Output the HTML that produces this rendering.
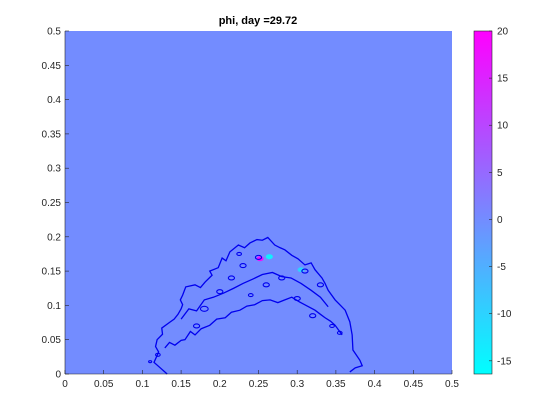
<!DOCTYPE html>
<html><head><meta charset="utf-8"><style>
body{margin:0;background:#fff;}
svg{display:block;font-family:"Liberation Sans",sans-serif;}
</style></head><body>
<svg id="c" width="560" height="420" xmlns="http://www.w3.org/2000/svg">
<defs><linearGradient id="cool" x1="0" y1="1" x2="0" y2="0"><stop offset="0" stop-color="#00ffff"/><stop offset="1" stop-color="#ff00ff"/></linearGradient></defs>
<text x="258" y="24" text-anchor="middle" font-size="11" font-weight="bold" fill="#000">phi, day =29.72</text>
<rect x="65" y="31" width="387" height="343" fill="rgb(115,140,255)"/>
<g id="contours"></g>
<g id="axes"></g>
<rect x="474" y="31" width="18" height="343" fill="url(#cool)" stroke="#262626" stroke-width="0.6"/>
<g id="cbticks"></g>
</svg>
<script>
const xTicks=[0,0.05,0.1,0.15,0.2,0.25,0.3,0.35,0.4,0.45,0.5];
const yTicks=[0,0.05,0.1,0.15,0.2,0.25,0.3,0.35,0.4,0.45,0.5];
const cbTicks=[-15,-10,-5,0,5,10,15,20];
const cbMin=-16.4, cbMax=20;
const outerX=[0.132,0.123,0.115,0.121,0.117,0.119,0.126,0.125,0.136,0.141,0.146,0.150,0.152,0.149,0.152,0.156,0.168,0.175,0.181,0.190,0.187,0.198,0.203,0.208,0.213,0.224,0.232,0.239,0.248,0.255,0.262,0.271,0.278,0.284,0.293,0.301,0.310,0.318,0.323,0.332,0.336,0.340,0.349,0.356,0.362,0.368,0.371,0.372,0.381,0.384,0.375,0.368];
const outerY=[0,0.009,0.017,0.032,0.040,0.050,0.058,0.067,0.076,0.080,0.087,0.095,0.101,0.108,0.115,0.127,0.130,0.126,0.134,0.144,0.150,0.155,0.169,0.165,0.178,0.188,0.184,0.191,0.196,0.195,0.199,0.188,0.184,0.181,0.173,0.168,0.159,0.162,0.152,0.140,0.132,0.122,0.108,0.100,0.093,0.076,0.057,0.035,0.020,0.012,0.009,0.003];
const innerX=[0.129,0.135,0.142,0.150,0.155,0.162,0.168,0.176,0.187,0.196,0.207,0.215,0.226,0.235,0.245,0.255,0.265,0.275,0.284,0.293,0.303,0.313,0.323,0.330,0.336,0.343,0.349,0.358];
const innerY=[0.038,0.046,0.042,0.049,0.050,0.062,0.057,0.066,0.071,0.080,0.082,0.090,0.093,0.099,0.101,0.107,0.108,0.104,0.108,0.112,0.105,0.099,0.093,0.087,0.082,0.077,0.071,0.057];
const midX=[0.150,0.160,0.170,0.180,0.192,0.205,0.218,0.230,0.242,0.255,0.268,0.280,0.292,0.305,0.318,0.330,0.340];
const midY=[0.080,0.095,0.092,0.108,0.112,0.118,0.125,0.132,0.138,0.145,0.148,0.142,0.140,0.132,0.122,0.112,0.098];
const blobX=[0.120,0.110,0.230,0.215,0.250,0.310,0.330,0.200,0.280,0.345,0.180,0.260,0.300,0.225,0.355,0.320,0.170,0.240];
const blobY=[0.028,0.018,0.158,0.140,0.170,0.150,0.130,0.120,0.140,0.070,0.095,0.130,0.110,0.175,0.060,0.085,0.070,0.115];
const blobR=[0.003,0.002,0.004,0.004,0.004,0.004,0.004,0.004,0.004,0.003,0.005,0.004,0.004,0.003,0.003,0.004,0.004,0.003];
const hotX=[0.252,0.264,0.305];const hotY=[0.168,0.171,0.152];const hotV=[18,-14,-10];
const NS='http://www.w3.org/2000/svg';
const X=v=>65+v*774, Y=v=>374-v*686, CB=v=>374-(v-cbMin)/(cbMax-cbMin)*343;
function el(t,a,p){const e=document.createElementNS(NS,t);for(const k in a)e.setAttribute(k,a[k]);p.appendChild(e);return e;}
function cool(v){const f=(v-cbMin)/(cbMax-cbMin);return `rgb(${Math.round(f*255)},${Math.round((1-f)*255)},255)`;}
const cg=document.getElementById('contours'),ag=document.getElementById('axes'),bg=document.getElementById('cbticks');
for(let i=0;i<hotX.length;i++){const e=el('ellipse',{cx:X(hotX[i]),cy:Y(hotY[i]),rx:3.5,ry:2.5,fill:cool(hotV[i])},cg);

}
function line(xs,ys,name){const p=el('polyline',{points:xs.map((x,i)=>X(x)+','+Y(ys[i])).join(' '),fill:'none',stroke:'#0000ee','stroke-width':1.3},cg);

}
line(outerX,outerY,'outer-contour');line(innerX,innerY,'inner-contour');line(midX,midY,'middle-contour');
for(let i=0;i<blobX.length;i++){const e=el('ellipse',{cx:X(blobX[i]),cy:Y(blobY[i]),rx:blobR[i]*774,ry:blobR[i]*500,fill:'none',stroke:'#0000ee','stroke-width':1.1},cg);

}
el('line',{x1:65,y1:374,x2:452,y2:374,stroke:'#262626','stroke-width':0.6},ag);
el('line',{x1:65,y1:31,x2:65,y2:374,stroke:'#262626','stroke-width':0.6},ag);
xTicks.forEach(t=>{el('line',{x1:X(t),y1:374,x2:X(t),y2:370,stroke:'#262626','stroke-width':0.6},ag);
const tx=el('text',{x:X(t),y:387,'text-anchor':'middle','font-size':10,fill:'#262626'},ag);tx.textContent=t;

});
yTicks.forEach(t=>{el('line',{x1:65,y1:Y(t),x2:69,y2:Y(t),stroke:'#262626','stroke-width':0.6},ag);
const tx=el('text',{x:61,y:Y(t)+3.5,'text-anchor':'end','font-size':10,fill:'#262626'},ag);tx.textContent=t;

});
cbTicks.forEach(t=>{el('line',{x1:489,y1:CB(t),x2:492,y2:CB(t),stroke:'#262626','stroke-width':0.6},bg);
const tx=el('text',{x:497,y:CB(t)+3.5,'font-size':10,fill:'#262626'},bg);tx.textContent=t;

});
</script>
</body></html>
